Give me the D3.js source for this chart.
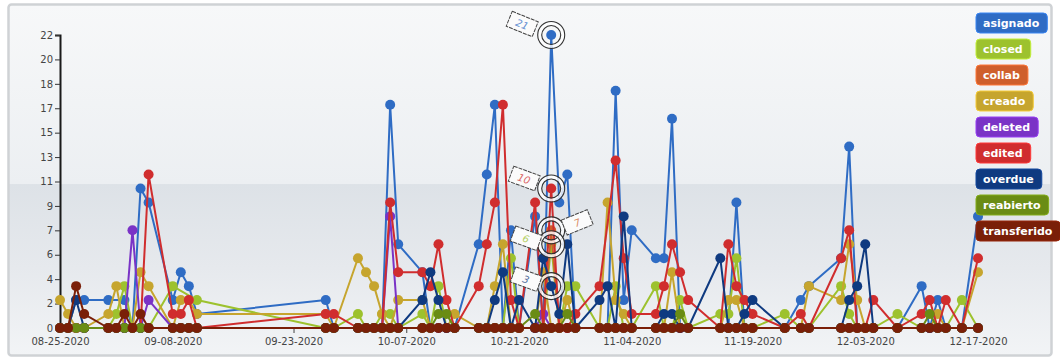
<!DOCTYPE html>
<html><head><meta charset="utf-8">
<script src="https://cdn.jsdelivr.net/npm/d3@7"></script>
<style>
body{margin:0;background:#fff;}
svg{display:block;font-family:"DejaVu Sans",Verdana,sans-serif;}
</style>
</head><body>
<svg id="chart" width="1060" height="362"></svg>
<script>
// ---------------- data ----------------
const dates = [
 "2020-08-25","2020-08-26","2020-08-27","2020-08-28","2020-08-31","2020-09-01","2020-09-02","2020-09-03","2020-09-04","2020-09-05",
 "2020-09-08","2020-09-09","2020-09-10","2020-09-11","2020-09-27","2020-09-28","2020-10-01","2020-10-02","2020-10-03","2020-10-04",
 "2020-10-05","2020-10-06","2020-10-09","2020-10-10","2020-10-11","2020-10-12","2020-10-13","2020-10-16","2020-10-17","2020-10-18",
 "2020-10-19","2020-10-20","2020-10-21","2020-10-23","2020-10-24","2020-10-25","2020-10-26","2020-10-27","2020-10-28","2020-10-31",
 "2020-11-01","2020-11-02","2020-11-03","2020-11-04","2020-11-07","2020-11-08","2020-11-09","2020-11-10","2020-11-11","2020-11-15",
 "2020-11-16","2020-11-17","2020-11-18","2020-11-19","2020-11-23","2020-11-25","2020-11-26","2020-11-30","2020-12-01","2020-12-02",
 "2020-12-03","2020-12-04","2020-12-07","2020-12-10","2020-12-11","2020-12-12","2020-12-13","2020-12-15","2020-12-17"
];
const xTickLabels = ["08-25-2020","09-08-2020","09-23-2020","10-07-2020","10-21-2020","11-04-2020","11-19-2020","12-03-2020","12-17-2020"];
const yTickLabels = ["0","2","4","6","7","9","11","13","15","17","18","20","22"];
const seriesNames = ["asignado","closed","collab","creado","deleted","edited","overdue","reabierto","transferido"];
const seriesColors = ["#2f6cc4","#9dc22e","#cf5f2c","#c6a52e","#7a33c6","#d02d2e","#0f3a80","#6a8c14","#7a1f08"];

const asignado = [
 0,0,2,2,2,null,2,0,10,9,
 2,4,3,1,2,0,0,0,0,0,
 16,6,4,0,0,0,0,6,11,16,
 0,7,0,8,0,21,9,11,0,0,
 0,17,2,7,5,5,15,0,0,0,
 0,9,0,0,0,2,3,5,13,0,
 0,0,0,3,0,2,0,0,8];
const closed = [
 0,0,0,0,0,1,3,0,0,0,
 3,null,null,2,0,0,1,0,0,1,
 1,0,1,0,3,0,0,0,0,0,
 0,5,0,0,0,6,0,3,3,0,
 0,3,0,0,3,0,0,2,0,1,
 1,5,0,0,1,0,0,3,1,0,
 0,0,1,0,0,0,0,2,0];
const collab = [
 0,0,0,0,0,0,0,0,0,0,
 0,0,0,0,0,0,0,0,0,0,
 0,0,0,0,0,0,0,0,0,0,
 0,0,0,0,0,7,0,0,0,0,
 0,0,0,0,0,0,0,0,0,0,
 0,0,0,0,0,0,0,0,0,0,
 0,0,0,0,0,0,0,0,0];
const creado = [
 2,1,0,0,1,3,0,0,4,3,
 0,2,2,1,1,0,5,4,3,1,
 0,2,2,0,0,0,1,0,0,3,
 6,0,0,0,4,0,0,2,0,0,
 9,2,1,0,0,0,4,0,0,0,
 2,2,0,0,0,0,3,2,6,2,
 0,0,0,0,0,1,0,0,4];
const deleted = [
 0,0,0,0,0,0,0,7,0,2,
 0,0,0,0,0,0,0,0,0,0,
 8,0,0,0,0,0,0,0,0,0,
 0,0,0,0,1,0,0,0,0,0,
 0,0,0,0,0,0,0,0,0,0,
 0,0,0,0,0,0,0,0,0,0,
 0,0,0,0,0,0,0,0,0];
const edited = [
 0,0,0,0,0,0,0,0,0,11,
 1,1,2,0,1,1,0,0,0,0,
 9,4,4,3,6,2,0,3,6,9,
 16,2,0,9,0,10,0,0,1,3,
 null,12,5,1,1,3,6,4,2,0,
 6,3,2,1,0,1,0,5,7,0,
 0,2,0,1,2,0,2,0,5];
const overdue = [
 0,0,2,0,0,0,0,0,0,0,
 0,0,0,0,0,0,0,0,0,0,
 0,0,2,4,2,0,0,0,0,2,
 4,0,2,0,5,3,1,6,0,2,
 3,0,8,0,0,1,1,0,0,5,
 0,0,1,2,0,0,0,0,2,3,
 6,0,0,0,0,0,0,0,0];
const reabierto = [
 0,0,0,0,0,0,0,0,0,0,
 0,0,0,0,0,0,0,0,0,0,
 0,0,0,0,1,1,0,0,0,0,
 0,0,0,1,0,0,0,1,0,0,
 0,0,0,0,0,0,0,1,0,0,
 0,0,0,0,0,0,0,0,0,0,
 0,0,0,0,1,0,0,0,0];
const transferido = [
 0,0,3,1,0,0,1,0,1,0,
 0,0,0,0,0,0,0,0,0,0,
 0,0,0,0,0,0,0,0,0,0,
 0,0,0,0,0,0,0,0,0,0,
 0,0,0,0,0,0,0,0,0,0,
 0,0,0,0,0,0,0,0,0,0,
 0,0,0,0,0,0,0,0,0];
const seriesValues = [asignado, closed, collab, creado, deleted, edited, overdue, reabierto, transferido];

// hovered date with value callouts
const highlightDate = "2020-10-25";
const highlightSeries = ["asignado","edited","collab","closed","overdue"];

// ---------------- drawing ----------------
const svg = d3.select("#chart");
const W = 1060, H = 362;
const parseDate = d3.timeParse("%Y-%m-%d");
const parseTick = d3.timeParse("%m-%d-%Y");
const xDates = dates.map(parseDate);
const tickDates = xTickLabels.map(parseTick);

const plot = {left: 60, right: 978, top: 35, bottom: 328};
const x = d3.scaleTime().domain([tickDates[0], tickDates[tickDates.length-1]]).range([plot.left, plot.right]);
const yMax = d3.max(seriesValues.flat().filter(v => v != null));
const y = d3.scaleLinear().domain([0, yMax]).range([plot.bottom, plot.top]);

// background
const defs = svg.append("defs");
const bg = defs.append("linearGradient").attr("id","bg").attr("x1",0).attr("y1",0).attr("x2",0).attr("y2",1);
[["0%","#f7f8f9"],["51%","#eceff2"],["51.3%","#dde2e7"],["75%","#e6e9ed"],["100%","#f2f4f6"]]
  .forEach(([o,c]) => bg.append("stop").attr("offset",o).attr("stop-color",c));
svg.append("rect").attr("x",0).attr("y",0).attr("width",W).attr("height",H).attr("fill","#ffffff");
svg.append("rect").attr("x",8.5).attr("y",4.5).attr("width",1043).attr("height",351).attr("rx",3)
  .attr("fill","url(#bg)").attr("stroke","#cfd2d5").attr("stroke-width",2.5);

// axes
const yTickVals = d3.range(yTickLabels.length).map(i => i * yMax / (yTickLabels.length - 1));
const yAxis = d3.axisLeft(y).tickValues(yTickVals).tickSize(5).tickPadding(2)
  .tickFormat((d,i) => yTickLabels[i]);
const gy = svg.append("g").attr("transform",`translate(${plot.left},0)`).call(yAxis);
gy.select(".domain").attr("stroke","#1a1a1a").attr("stroke-width",2);
gy.selectAll(".tick line").attr("stroke","#333");
gy.selectAll("text").attr("font-size",10).attr("fill","#444").attr("font-family","DejaVu Sans, sans-serif");

const xAxis = d3.axisBottom(x).tickValues(tickDates).tickSize(5).tickPadding(5)
  .tickFormat((d,i) => xTickLabels[i]);
const gx = svg.append("g").attr("transform",`translate(0,${plot.bottom})`).call(xAxis);
gx.select(".domain").attr("stroke","#555").attr("stroke-width",1);
gx.selectAll(".tick line").attr("stroke","#444");
gx.selectAll("text").attr("font-size",10).attr("fill","#444").attr("font-family","DejaVu Sans, sans-serif");

// series
const line = d3.line().x(d => x(d.date)).y(d => y(d.v));
seriesNames.forEach((name, si) => {
  const pts = seriesValues[si].map((v,i) => ({date: xDates[i], v})).filter(d => d.v != null);
  const g = svg.append("g").attr("class","series-"+name);
  g.append("path").datum(pts).attr("d", line).attr("fill","none")
    .attr("stroke", seriesColors[si]).attr("stroke-width",2).attr("stroke-linejoin","round");
  g.selectAll("circle").data(pts).join("circle")
    .attr("cx", d => x(d.date)).attr("cy", d => y(d.v)).attr("r",5)
    .attr("fill", seriesColors[si]);
});

// highlight callouts
const hIndex = dates.indexOf(highlightDate);
const hx = x(xDates[hIndex]);
const calloutLayout = {
  asignado: {dx:-23, dy:-11, rot:22},
  edited:   {dx:-21, dy:-10, rot:20},
  collab:   {dx: 20, dy:-8,  rot:-22},
  closed:   {dx:-19, dy:-6,  rot:20},
  overdue:  {dx:-19, dy:-7,  rot:20}
};
const hl = svg.append("g").attr("class","highlight");
highlightSeries.forEach(name => {
  const si = seriesNames.indexOf(name);
  const v = seriesValues[si][hIndex];
  const cy = y(v);
  hl.append("circle").attr("cx",hx).attr("cy",cy).attr("r",11.5).attr("fill","none")
    .attr("stroke","#fff").attr("stroke-width",3).attr("opacity",0.8);
  hl.append("circle").attr("cx",hx).attr("cy",cy).attr("r",9.5).attr("fill","none")
    .attr("stroke","#333").attr("stroke-width",1.1);
  hl.append("circle").attr("cx",hx).attr("cy",cy).attr("r",13.5).attr("fill","none")
    .attr("stroke","#333").attr("stroke-width",1.1);
  const L = calloutLayout[name];
  const bx = hx + L.dx + (L.dx < 0 ? -6 : 6), by = cy + L.dy;
  const tag = hl.append("g").attr("transform",`translate(${bx},${by}) rotate(${L.rot})`);
  tag.append("rect").attr("x",-14).attr("y",-8).attr("width",28).attr("height",16)
    .attr("fill","#fbfbfb").attr("stroke","#444").attr("stroke-width",1).attr("stroke-dasharray","4,1");
  tag.append("text").attr("x",0).attr("y",4).attr("text-anchor","middle")
    .attr("font-size",10).attr("font-style","italic").attr("fill",seriesColors[si]).attr("opacity",0.75).text(v);
});

// legend
const lg = svg.append("g").attr("transform","translate(976,13)");
seriesNames.forEach((name, i) => {
  const g = lg.append("g").attr("transform",`translate(0,${i*26})`);
  const rect = g.append("rect").attr("height",20).attr("rx",4).attr("fill",seriesColors[i])
    .attr("stroke", d3.color(seriesColors[i]).brighter(0.6)).attr("stroke-width",1);
  const t = g.append("text").attr("x",7).attr("y",14).attr("font-size",11).attr("font-weight","bold")
    .attr("fill","#fff").attr("font-family","DejaVu Sans, sans-serif").text(name);
  const w = t.node().getComputedTextLength();
  rect.attr("width", w + 15);
});
</script>
</body></html>
